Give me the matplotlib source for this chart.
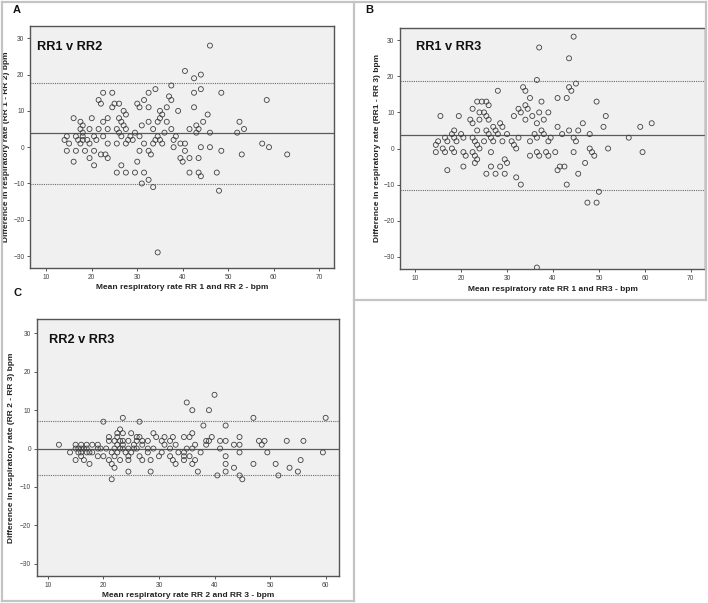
import matplotlib
matplotlib.use("Agg")
import matplotlib.pyplot as plt
from matplotlib.lines import Line2D

plt.rcParams['font.family'] = ['Liberation Sans', 'DejaVu Sans']

# ---- data (mean, difference) ----
a_pts = [
    (46, 28), (40.5, 21), (44, 20), (42.5, 19), (37.5, 17), (34, 16), (44, 16),
    (22.5, 15), (24.5, 15), (32.5, 15), (42.5, 15), (48.5, 15), (37, 14), (37.5, 13),
    (21.5, 13), (31.5, 13), (58.5, 13), (22, 12), (25, 12), (26, 12), (30, 12),
    (24.5, 11), (30.5, 11), (32.5, 11), (36.5, 11), (42.5, 11), (27, 10), (35, 10),
    (39, 10), (27.5, 9), (35.5, 9), (45.5, 9), (16, 8), (20, 8), (23.5, 8), (26, 8),
    (35, 8), (17.5, 7), (22.5, 7), (26.5, 7), (32.5, 7), (34.5, 7), (36.5, 7), (44.5, 7),
    (52.5, 7), (18, 6), (27, 6), (31, 6), (43, 6), (17.5, 5), (19.5, 5), (21.5, 5),
    (23.5, 5), (25.5, 5), (27.5, 5), (33.5, 5), (37.5, 5), (41.5, 5), (43.5, 5),
    (53.5, 5), (18, 4), (26, 4), (29.5, 4), (36, 4), (43, 4), (46, 4), (52, 4),
    (14.5, 3), (16.5, 3), (18, 3), (20.5, 3), (22.5, 3), (26.5, 3), (28.5, 3), (30.5, 3),
    (34.5, 3), (38.5, 3), (14, 2), (17, 2), (18, 2), (19, 2), (21, 2), (28, 2), (29, 2),
    (34, 2), (35, 2), (38, 2), (15, 1), (17.5, 1), (19.5, 1), (23.5, 1), (25.5, 1),
    (27.5, 1), (31.5, 1), (33.5, 1), (35.5, 1), (39.5, 1), (40.5, 1), (57.5, 1),
    (38, 0), (44, 0), (46, 0), (59, 0), (14.5, -1), (16.5, -1), (18.5, -1), (20.5, -1),
    (30.5, -1), (32.5, -1), (40.5, -1), (48.5, -1), (22, -2), (23, -2), (33, -2),
    (53, -2), (63, -2), (19.5, -3), (23.5, -3), (39.5, -3), (41.5, -3), (43.5, -3),
    (16, -4), (30, -4), (40, -4), (20.5, -5), (26.5, -5), (25.5, -7), (27.5, -7),
    (29.5, -7), (31.5, -7), (41.5, -7), (43.5, -7), (47.5, -7), (44, -8), (32.5, -9),
    (31, -10), (33.5, -11), (48, -12), (34.5, -29),
]
b_pts = [
    (44.5, 31), (37, 28), (43.5, 25), (36.5, 19), (45, 18), (43.5, 17), (33.5, 17),
    (44, 16), (34, 16), (28, 16), (35, 14), (41, 14), (43, 14), (23.5, 13), (24.5, 13),
    (25.5, 13), (37.5, 13), (49.5, 13), (26, 12), (34, 12), (22.5, 11), (32.5, 11),
    (34.5, 11), (24, 10), (25, 10), (33, 10), (37, 10), (39, 10), (15.5, 9), (19.5, 9),
    (25.5, 9), (31.5, 9), (35.5, 9), (51.5, 9), (22, 8), (24, 8), (26, 8), (34, 8),
    (38, 8), (22.5, 7), (28.5, 7), (36.5, 7), (46.5, 7), (61.5, 7), (27, 6), (29, 6),
    (41, 6), (51, 6), (59, 6), (18.5, 5), (23.5, 5), (25.5, 5), (27.5, 5), (37.5, 5),
    (43.5, 5), (45.5, 5), (18, 4), (20, 4), (26, 4), (28, 4), (30, 4), (36, 4), (38, 4),
    (42, 4), (48, 4), (16.5, 3), (18.5, 3), (20.5, 3), (22.5, 3), (26.5, 3), (32.5, 3),
    (36.5, 3), (39.5, 3), (44.5, 3), (56.5, 3), (15, 2), (17, 2), (19, 2), (23, 2),
    (25, 2), (27, 2), (29, 2), (31, 2), (35, 2), (39, 2), (45, 2), (14.5, 1), (23.5, 1),
    (31.5, 1), (16, 0), (18, 0), (24, 0), (32, 0), (48, 0), (52, 0), (14.5, -1),
    (16.5, -1), (18.5, -1), (20.5, -1), (22.5, -1), (26.5, -1), (36.5, -1), (38.5, -1),
    (40.5, -1), (44.5, -1), (48.5, -1), (59.5, -1), (21, -2), (23, -2), (35, -2),
    (37, -2), (39, -2), (49, -2), (23.5, -3), (29.5, -3), (23, -4), (30, -4), (47, -4),
    (20.5, -5), (26.5, -5), (28.5, -5), (41.5, -5), (42.5, -5), (17, -6), (41, -6),
    (25.5, -7), (27.5, -7), (29.5, -7), (45.5, -7), (32, -8), (33, -10), (43, -10),
    (50, -12), (47.5, -15), (49.5, -15), (36.5, -33),
]
c_pts = [
    (40, 14), (35, 12), (36, 10), (39, 10), (20, 7), (26.5, 7), (23.5, 8), (47, 8),
    (60, 8), (38, 6), (42, 6), (23, 5), (22.5, 4), (23.5, 4), (25, 4), (29, 4), (36, 4),
    (21, 3), (22.5, 3), (26, 3), (26.5, 3), (29.5, 3), (31, 3), (32.5, 3), (34.5, 3),
    (35.5, 3), (39.5, 3), (44.5, 3), (21, 2), (22, 2), (23, 2), (23.5, 2), (24.5, 2),
    (26, 2), (27, 2), (28, 2), (30.5, 2), (32, 2), (38.5, 2), (39, 2), (41, 2), (42, 2),
    (48, 2), (49, 2), (53, 2), (56, 2), (12, 1), (15, 1), (16, 1), (17, 1), (18, 1),
    (19, 1), (22.5, 1), (23.5, 1), (25.5, 1), (27, 1), (31, 1), (33, 1), (36.5, 1),
    (38.5, 1), (43.5, 1), (44.5, 1), (48.5, 1), (15, 0), (15.5, 0), (16, 0), (16.5, 0),
    (17, 0), (19, 0), (19.5, 0), (20.5, 0), (22, 0), (23, 0), (23.5, 0), (24.5, 0),
    (25.5, 0), (26, 0), (28, 0), (29, 0), (32, 0), (35, 0), (36, 0), (41, 0), (14, -1),
    (15.5, -1), (16, -1), (17, -1), (17.5, -1), (18, -1), (21.5, -1), (22.5, -1),
    (24, -1), (25, -1), (28, -1), (30.5, -1), (33.5, -1), (34.5, -1), (37.5, -1),
    (44.5, -1), (49.5, -1), (59.5, -1), (16, -2), (19, -2), (20, -2), (22, -2),
    (24.5, -2), (26.5, -2), (30, -2), (32, -2), (34.5, -2), (35.5, -2), (42, -2),
    (15, -3), (16.5, -3), (21, -3), (23, -3), (24.5, -3), (27, -3), (28.5, -3),
    (32.5, -3), (34.5, -3), (36.5, -3), (55.5, -3), (17.5, -4), (21.5, -4), (33, -4),
    (36, -4), (42, -4), (47, -4), (51, -4), (22, -5), (43.5, -5), (53.5, -5),
    (24.5, -6), (28.5, -6), (37, -6), (42, -6), (55, -6), (40.5, -7), (44.5, -7),
    (51.5, -7), (21.5, -8), (45, -8),
]

# mean difference and limits of agreement
a_lines = (3.8, 17.7, -10.1)
b_lines = (3.7, 18.7, -11.4)
c_lines = (0.0, 7.1, -7.0)

titles = ["RR1 v RR2", "RR1 v RR3", "RR2 v RR3"]
xlabels = ["Mean respiratory rate RR 1 and RR 2 - bpm",
           "Mean respiratory rate RR 1 and RR3 - bpm",
           "Mean respiratory rate RR 2 and RR 3 - bpm"]
ylabels = ["Difference in respiratory rate (RR 1 - RR 2) bpm",
           "Difference in respiratory rate (RR1 - RR 3) bpm",
           "Difference in respiratory rate (RR 2 - RR 3) bpm"]
xticks_ab = [10, 20, 30, 40, 50, 60, 70]
xticks_c = [10, 20, 30, 40, 50, 60]
yticks = [-30, -20, -10, 0, 10, 20, 30]

W, H = 708, 603
fig = plt.figure(figsize=(W / 100, H / 100), dpi=100)


def px_axes(l, t, r, b):
    return fig.add_axes([l / W, 1 - b / H, (r - l) / W, (b - t) / H])


def ba_panel(ax, pts, lines, xlim, ylim, xticks, title, title_xy, xl, yl, xl_y, yl_x):
    ax.set_facecolor('#f0f0f0')
    xs = [p[0] for p in pts]
    ys = [p[1] for p in pts]
    ax.scatter(xs, ys, s=13, facecolors='none', edgecolors='#404040', linewidths=0.6, zorder=3)
    mean, up, lo = lines
    ax.axhline(mean, color='#5a5a5a', lw=0.9, zorder=2)
    ax.axhline(up, color='#6e6e6e', lw=0.8, ls=(0, (1, 1)), zorder=2)
    ax.axhline(lo, color='#6e6e6e', lw=0.8, ls=(0, (1, 1)), zorder=2)
    ax.set_xlim(*xlim)
    ax.set_ylim(*ylim)
    ax.set_xticks(xticks)
    ax.set_yticks(yticks)
    ax.tick_params(direction='out', length=2.5, width=0.7, colors='#555555',
                   labelsize=4.8, labelcolor='#444444', pad=1.5)
    for sp in ax.spines.values():
        sp.set_color('#555555')
        sp.set_linewidth(1.0)
    ax.text(title_xy[0], title_xy[1], title, transform=ax.transAxes, fontsize=9.2,
            fontweight='bold', va='center', ha='left', color='#111111')
    ax.set_xlabel(xl, fontsize=6.0, fontweight='bold', color='#222222', va='center')
    ax.set_ylabel(yl, fontsize=6.0, fontweight='bold', color='#222222', va='center')
    ax.xaxis.set_label_coords(0.5, xl_y)
    ax.yaxis.set_label_coords(yl_x, 0.5)


ax_a = px_axes(30, 26, 334, 268)
ba_panel(ax_a, a_pts, a_lines, (6.4, 73.3), (-33.3, 33.4), xticks_ab, titles[0],
         (0.023, 0.913), xlabels[0], ylabels[0], -0.079, -0.076)

ax_b = px_axes(400, 28, 705, 269)
ba_panel(ax_b, b_pts, b_lines, (6.7, 73.1), (-33.4, 33.4), xticks_ab, titles[1],
         (0.053, 0.922), xlabels[1], ylabels[1], -0.083, -0.075)

ax_c = px_axes(36.7, 319, 339, 576)
ba_panel(ax_c, c_pts, c_lines, (8.0, 62.4), (-33.2, 33.75), xticks_c, titles[2],
         (0.041, 0.917), xlabels[2], ylabels[2], -0.077, -0.083)

# panel letters
for letter, (x, y) in zip("ABC", [(17, 10), (369, 10), (17, 293)]):
    fig.text(x / W, 1 - y / H, letter, fontsize=8, fontweight='bold',
             ha='center', va='center', color='#111111')

# light grey frames around the panels
frame = dict(color='#c4c4c4', lw=1.6, transform=fig.transFigure)
def seg(x0, y0, x1, y1):
    fig.add_artist(Line2D([x0 / W, x1 / W], [1 - y0 / H, 1 - y1 / H], **frame))

seg(2, 2, 706, 2)
seg(2, 2, 2, 601)
seg(354, 2, 354, 601)
seg(2, 601, 354, 601)
seg(706, 2, 706, 300)
seg(354, 300, 706, 300)

fig.savefig("out.png", dpi=100)
